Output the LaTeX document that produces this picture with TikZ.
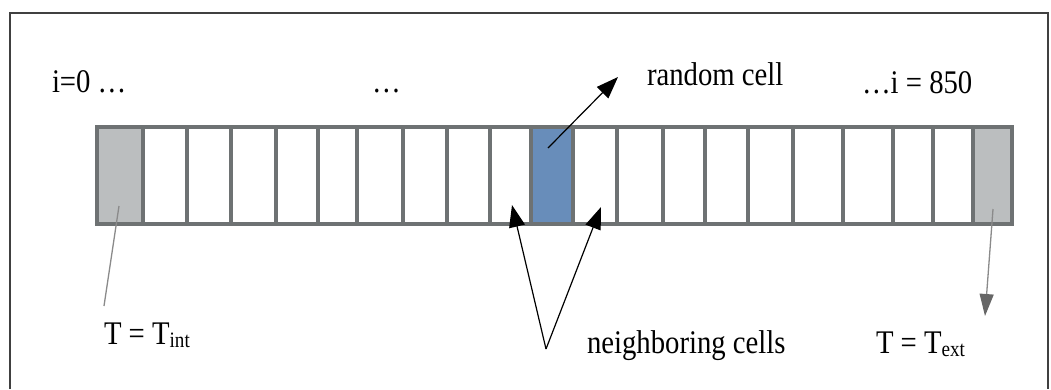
\documentclass[tikz,border=0pt]{standalone}
\usepackage{fontspec}
\setmainfont{Liberation Serif}
\usetikzlibrary{arrows.meta}
\definecolor{frameclr}{HTML}{404040}
\definecolor{cellline}{HTML}{6E7273}
\definecolor{endfill}{HTML}{BBBEBF}
\definecolor{randfill}{HTML}{688DBA}
\definecolor{thinline}{HTML}{8A8A8A}
\definecolor{headgray}{HTML}{666666}
\newcommand{\sqz}[1]{\scalebox{0.87}[1]{#1}}
\newcommand{\subtxt}[1]{\raisebox{-3pt}{\fontsize{22}{24}\selectfont #1}}
\tikzset{
  cellbox/.style={draw=cellline, line width=3.5pt, inner sep=0pt, outer sep=0pt, minimum height=97pt},
  lbl/.style={anchor=base west, inner sep=0pt, outer sep=0pt, font=\fontsize{33}{38}\selectfont},
  pointer/.style={draw=black, line width=1.2pt, -{Triangle[length=22pt,width=16pt]}},
  graylead/.style={draw=thinline, line width=1.3pt},
}
\begin{document}
\begin{tikzpicture}[x=1pt,y=-1pt]
\useasboundingbox (0,0) rectangle (1051,389);
% frame
\draw[frameclr, line width=1.3pt] (10,389) -- (10,13) -- (1048,13) -- (1048,389);
% cells
\foreach \a/\b/\f [count=\i, evaluate=\a as \w using \b-\a, evaluate=\a as \m using (\a+\b)/2] in
  {97/143/endfill, 143/187/white, 187/231/white, 231/276/white, 276/318/white,
   318/357/white, 357/403/white, 403/447/white, 447/490/white, 490/531/white,
   531/573/randfill, 573/617/white, 617/663/white, 663/705/white, 705/748/white,
   748/793/white, 793/843/white, 843/893/white, 893/933/white, 933/973/white,
   973/1012/endfill}
  \node[cellbox, fill=\f, minimum width=\w pt] (c\i) at (\m,175.5) {};
% labels
\node[lbl] (izero) at (52,92) {\sqz{i=0 …}};
\node[lbl] (middots) at (372,92) {\sqz{…}};
\node[lbl] (ilast) at (862,93) {\sqz{…i = 850}};
\node[lbl] (randlbl) at (647,85) {\sqz{random cell}};
\node[lbl] (neighlbl) at (587,353) {\sqz{neighboring cells}};
\node[lbl] (tintlbl) at (104,344) {\sqz{T = T\subtxt{int}}};
\node[lbl] (textlbl) at (876,353) {\sqz{T = T\subtxt{ext}}};
% connector coordinates
\coordinate (rcstart) at (548,148);
\coordinate (rctip) at (618,77);
\coordinate (nbapex) at (546,349);
\coordinate (nbleft) at (512,205);
\coordinate (nbright) at (601,207);
\coordinate (tintstart) at (119,206);
\coordinate (tintend) at (104,306);
\coordinate (textstart) at (993,209);
\coordinate (textend) at (985,316);
% connectors
\draw[pointer] (rcstart) -- (rctip);
\draw[pointer] (nbapex) -- (nbleft);
\draw[pointer] (nbapex) -- (nbright);
\draw[graylead] (tintstart) -- (tintend);
\draw[graylead, -{Triangle[length=22pt,width=14pt,color=headgray]}] (textstart) -- (textend);
\end{tikzpicture}
\end{document}
